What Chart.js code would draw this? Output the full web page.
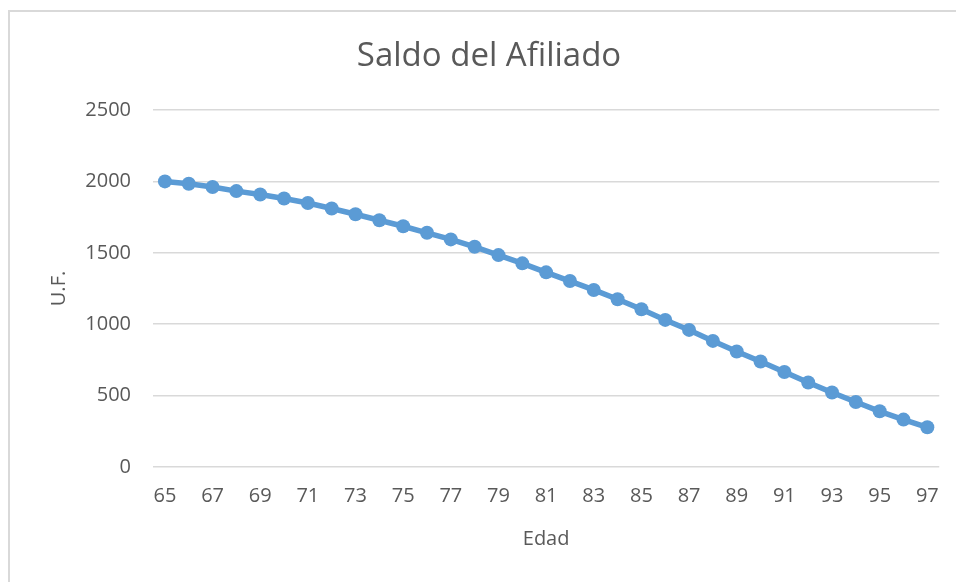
<!DOCTYPE html>
<html>
<head>
<meta charset="utf-8">
<script src="https://cdn.jsdelivr.net/npm/chart.js@4/dist/chart.umd.min.js"></script>
<style>
  html,body{margin:0;padding:0;background:#fff;}
  #wrap{position:relative;width:956px;height:582px;overflow:hidden;}
  #frame{position:absolute;left:8px;top:10px;width:1000px;height:1000px;border:2px solid #d9d9d9;}
  #c{position:absolute;left:0;top:0;}
</style>
</head>
<body>
<div id="wrap">
  <div id="frame"></div>
  <canvas id="c" width="956" height="582"></canvas>
</div>
<script>
// Saldo del afiliado por edad (U.F.)
const edades = [65,66,67,68,69,70,71,72,73,74,75,76,77,78,79,80,81,82,83,84,85,86,87,88,89,90,91,92,93,94,95,96,97];
const saldo = [2000,1984,1961,1932,1908,1880,1849,1810,1770,1728,1686,1640,1594,1542,1484,1426,1363,1302,1240,1175,1105,1030,960,883,809,739,665,592,522,455,390,332,278];
const yTicks = [0,500,1000,1500,2000,2500];

const gris = '#595959';
const azul = '#5b9bd5';
const fuente = "'Open Sans', sans-serif";

new Chart(document.getElementById('c'), {
  type: 'line',
  data: {
    labels: edades,
    datasets: [{
      label: 'Saldo',
      data: saldo,
      borderColor: azul,
      backgroundColor: azul,
      borderWidth: 5.5,
      pointRadius: 7,
      pointBorderWidth: 0,
      pointBackgroundColor: azul,
      tension: 0
    }]
  },
  options: {
    responsive: false,
    animation: false,
    layout: {padding: {left: 38, right: 16, top: 0, bottom: 0}},
    plugins: {
      legend: {display: false},
      tooltip: {enabled: false},
      title: {
        display: true,
        text: 'Saldo del Afiliado',
        color: gris,
        font: {family: fuente, size: 33, weight: 'normal', lineHeight: 1.2},
        padding: {top: 37, bottom: 33.4}
      }
    },
    scales: {
      x: {
        offset: true,
        grid: {display: false, drawTicks: false},
        border: {display: false},
        ticks: {
          autoSkip: false, maxRotation: 0, color: gris, padding: 17,
          font: {family: fuente, size: 20},
          callback: function(v, i){ return i % 2 === 0 ? String(edades[i]) : ''; }
        },
        title: {display: true, text: 'Edad', color: gris, font: {family: fuente, size: 20}, padding: {top: 0, bottom: 31}},
        afterFit: function(s){ s.height = 115; }
      },
      y: {
        min: 0, max: 2500,
        afterBuildTicks: function(s){ s.ticks = yTicks.map(v => ({value: v})); },
        grid: {color: '#d9d9d9', lineWidth: 1.5, drawTicks: false},
        border: {display: false},
        ticks: {color: gris, padding: 22, font: {family: fuente, size: 20},
          callback: function(v){ return String(v); }},
        title: {display: true, text: 'U.F.', color: gris, font: {family: fuente, size: 20}, padding: {top: 9, bottom: 0}},
        afterFit: function(s){ s.width = 115; }
      }
    }
  }
});
</script>
</body>
</html>
